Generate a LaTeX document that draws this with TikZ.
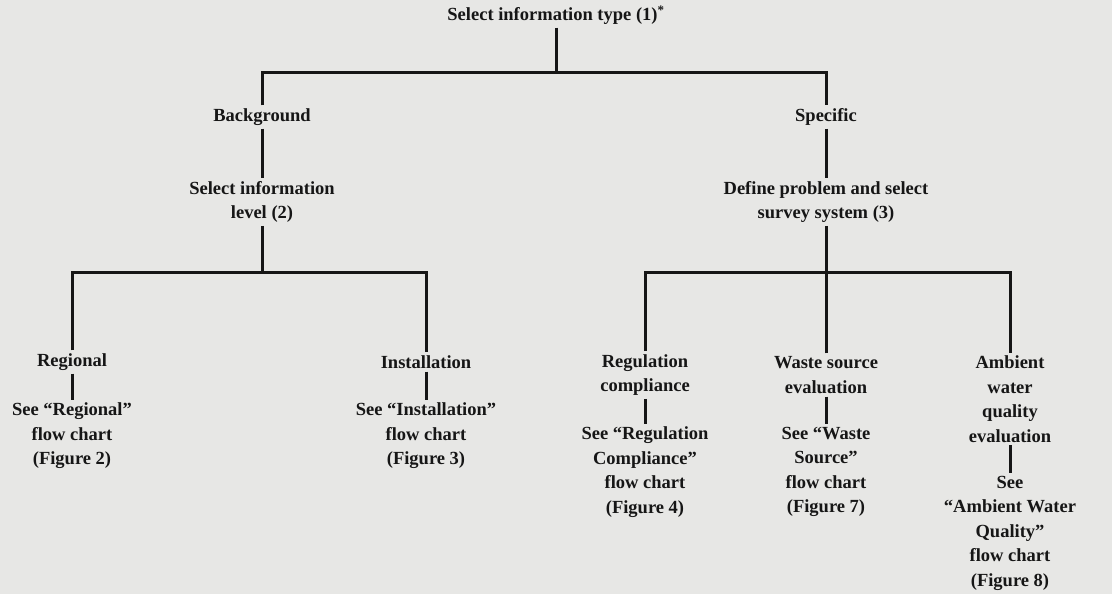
\documentclass[tikz,border=0pt]{standalone}
\usepackage{fontspec}
\setmainfont{Liberation Serif}
\usepackage{xcolor}
\usetikzlibrary{positioning}
\definecolor{paper}{RGB}{231,231,229}
\definecolor{ink}{RGB}{22,22,22}

\tikzset{
  label box/.style={font=\fontsize{18.5}{24.5}\selectfont\bfseries, align=center, inner sep=3pt, text=ink},
  link/.style={line width=3pt, draw=ink},
}

\begin{document}
\begin{tikzpicture}[x=1pt,y=-1pt]
\fill[paper] (0,0) rectangle (1112,594);
% levels of the chart
\node[label box] (title) at (556,15) {Select information type (1)\textsuperscript{*}};
\node[label box] (bg) at (262,117) {Background};
\node[label box] (sp) at (826,117) {Specific};
\node[label box] (lvl) at (262,202) {Select information\\level (2)};
\node[label box] (def) at (826,202) {Define problem and select\\survey system (3)};
\node[label box] (reg) at (72,362) {Regional};
\node[label box] (inst) at (426,362) {Installation};
\node[label box] (regc) at (645,375) {Regulation\\compliance};
\node[label box] (waste) at (826,375) {Waste source\\evaluation};
\node[label box] (amb) at (1010,399) {Ambient\\water\\quality\\evaluation};
\node[label box] (seereg) at (72,436) {See ``Regional''\\flow chart\\(Figure 2)};
\node[label box] (seeinst) at (426,436) {See ``Installation''\\flow chart\\(Figure 3)};
\node[label box] (seeregc) at (645,472) {See ``Regulation\\Compliance''\\flow chart\\(Figure 4)};
\node[label box] (seewaste) at (826,472) {See ``Waste\\Source''\\flow chart\\(Figure 7)};
\node[label box] (seeamb) at (1010,533) {See\\``Ambient Water\\Quality''\\flow chart\\(Figure 8)};
% junctions
\coordinate (j1) at (556,73);
\coordinate (j2) at (262,272);
\coordinate (j3) at (826,272);
\draw[link] (title) -- (j1);
\draw[link] (bg) |- (j1) -| (sp);
\draw[link] (lvl) -- (j2);
\draw[link] (reg) |- (j2) -| (inst);
\draw[link] (def) -- (j3);
\draw[link] (regc) |- (j3) -| (amb);
\draw[link] (waste) -- (j3);
\foreach \a/\b in {bg/lvl, sp/def, reg/seereg, inst/seeinst, regc/seeregc, waste/seewaste, amb/seeamb}
  \draw[link] (\a) -- (\b);
\end{tikzpicture}
\end{document}
